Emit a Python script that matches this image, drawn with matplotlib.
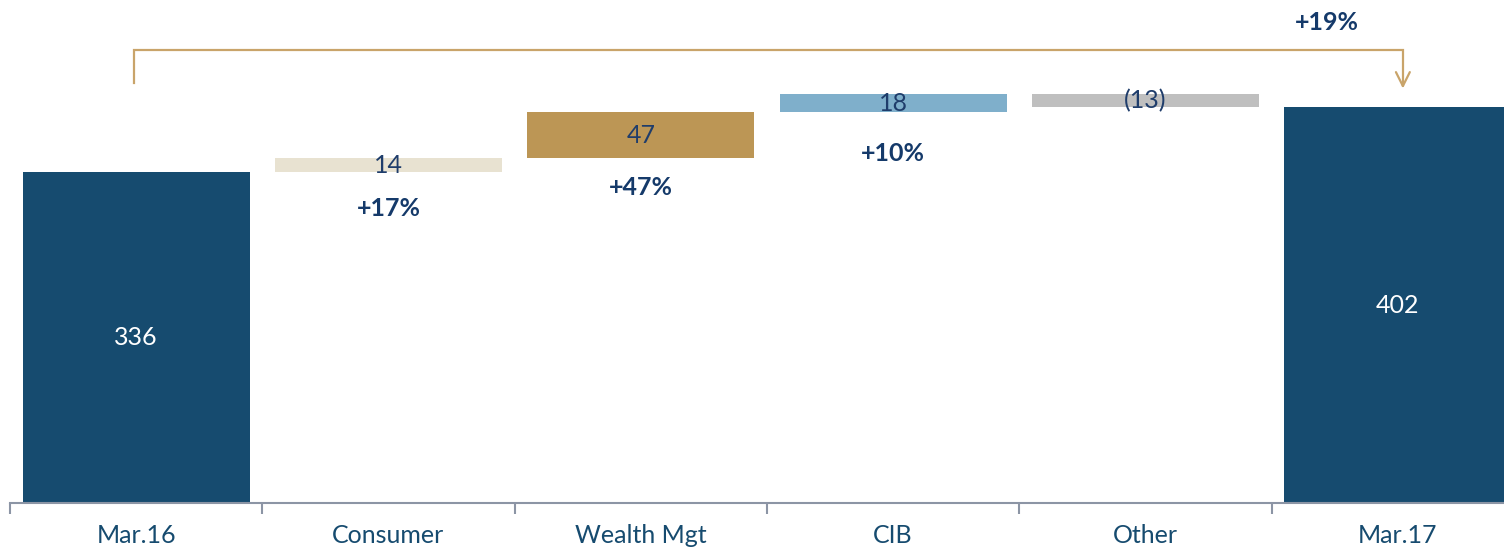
import numpy as np
import matplotlib.pyplot as plt

# waterfall data
categories = ["Mar.16", "Consumer", "Wealth Mgt", "CIB", "Other", "Mar.17"]
values = [336, 14, 47, 18, -13, 402]
is_total = [True, False, False, False, False, True]
value_labels = ["336", "14", "47", "18", "(13)", "402"]
growth_labels = ["", "+17%", "+47%", "+10%", "", ""]
growth_y = [0, 299, 320, 355, 0, 0]
total_growth = "+19%"

bar_colors = ["#164B6F", "#E8E2D1", "#BC9655", "#7FAFCB", "#BFBFBF", "#164B6F"]
label_colors = ["white", "#1F3D6B", "#1F3D6B", "#1F3D6B", "#1F3D6B", "white"]
navy = "#153A6A"
gold = "#C9A46A"

plt.rcParams['font.family'] = ['Lato', 'DejaVu Sans']

fig = plt.figure(figsize=(15.04, 5.5), dpi=100)
# axis spans x 10..1524 px, baseline at y=503
ax = fig.add_axes([10 / 1504, 47 / 550, 1514 / 1504, 492.5 / 550])

# compute bar bottoms / heights for waterfall
bottoms, heights = [], []
running = 0
for v, tot in zip(values, is_total):
    if tot:
        bottoms.append(0)
        heights.append(v)
        running = v
    else:
        if v >= 0:
            bottoms.append(running)
            heights.append(v)
        else:
            bottoms.append(running + v)
            heights.append(-v)
        running += v

x = np.arange(len(categories))
ax.bar(x, heights, bottom=bottoms, width=0.9, color=bar_colors)

for i in range(len(categories)):
    ax.text(x[i], bottoms[i] + heights[i] / 2, value_labels[i], ha="center", va="center",
            fontsize=18, color=label_colors[i])
    if growth_labels[i]:
        ax.text(x[i], growth_y[i], growth_labels[i], ha="center", va="center",
                fontsize=18, fontweight="bold", color=navy)

# bracket arrow from Mar.16 to Mar.17
x0, x1 = -0.01, 5.02
ax.plot([x0, x0, x1, x1], [426, 460, 460, 424], color=gold, lw=1.6, clip_on=False,
        solid_joinstyle="miter")
ax.annotate("", xy=(x1, 418), xytext=(x1, 430),
            arrowprops=dict(arrowstyle="->", color=gold, lw=1.6, mutation_scale=25),
            annotation_clip=False)
ax.text(4.72, 488, total_growth, ha="center", va="center", fontsize=18,
        fontweight="bold", color=navy, clip_on=False)

ax.set_xlim(-0.5, 5.5)
ax.set_ylim(0, 500)
ax.set_yticks([])
for s in ["top", "right", "left"]:
    ax.spines[s].set_visible(False)
ax.spines["bottom"].set_color("#8C95A5")
ax.spines["bottom"].set_linewidth(1.5)

ax.set_xticks(x)
ax.set_xticklabels(categories, fontsize=18, color="#164B6F")
ax.tick_params(axis="x", which="major", length=0, pad=15)
ax.set_xticks(np.arange(-0.5, 6, 1), minor=True)
ax.tick_params(axis="x", which="minor", length=8, width=1.5, color="#8C95A5")

fig.savefig("out.png", dpi=100)
